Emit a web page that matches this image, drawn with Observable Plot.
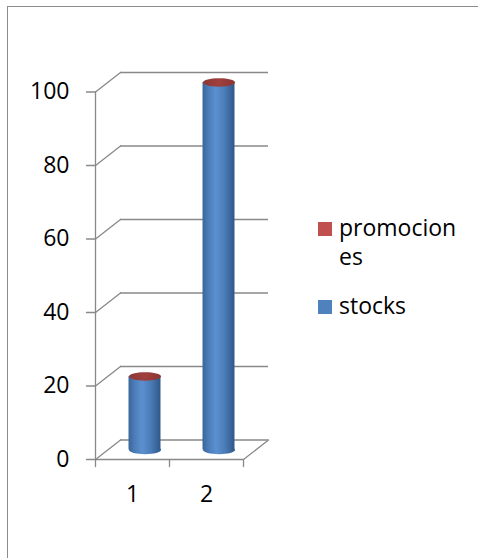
<!DOCTYPE html>
<html>
<head>
<meta charset="utf-8">
<script src="https://cdn.jsdelivr.net/npm/d3@7"></script>
<script src="https://cdn.jsdelivr.net/npm/@observablehq/plot@0.6"></script>
<style>
  html, body { margin: 0; padding: 0; background: #fff; }
  #wrap { position: relative; width: 478px; height: 558px; overflow: hidden; font-family: "Open Sans", sans-serif; }
  #frame { position: absolute; left: 7px; top: 6px; width: 600px; height: 700px; border: 1.5px solid #8c8c8c; box-sizing: border-box; }
  #chart { position: absolute; left: 0; top: 0; }
  .legend { position: absolute; left: 318px; font-size: 23px; color: #000; }
  .item { position: absolute; left: 0; display: flex; align-items: flex-start; }
  .sw { width: 14px; height: 14px; margin-top: 9px; margin-right: 7px; flex: none; }
  .lbl { width: 122px; line-height: 29px; word-break: break-all; }
</style>
</head>
<body>
<div id="wrap">
  <div id="frame"></div>
  <div id="chart"></div>
  <div class="legend" id="legend" style="top:211px"></div>
</div>
<script>
// Categories and series values
const categories = ["1", "2"];
const stocks = [20, 100];
const promociones = [0, 0];
const yTicks = [0, 20, 40, 60, 80, 100];
const seriesNames = ["promociones", "stocks"];
const seriesColors = ["#C0504D", "#4F81BD"];

const rows = categories.map((c, i) => ({
  cat: c,
  pos: i + 0.5,
  stocks: stocks[i],
  top: stocks[i] + promociones[i]
}));

const gray = "#898989";
const halfW = 0.216;          // half cylinder width in category units
const depth = {dx: 25, dy: -19.5};   // back-wall offset in pixels
const mid = {dx: 12.5, dy: -9.5};    // cylinders sit halfway into the depth

// straight-line shape for vector marks
const lineShape = {draw(ctx, l) { ctx.moveTo(0, 0); ctx.lineTo(0, -l); }};

// flattened ellipse symbol for the cylinder ends
const ellipse = {
  draw(ctx, size) {
    const rx = Math.sqrt(size / Math.PI), ry = rx * 0.26, k = 0.5523;
    ctx.moveTo(rx, 0);
    ctx.bezierCurveTo(rx, ry * k, rx * k, ry, 0, ry);
    ctx.bezierCurveTo(-rx * k, ry, -rx, ry * k, -rx, 0);
    ctx.bezierCurveTo(-rx, -ry * k, -rx * k, -ry, 0, -ry);
    ctx.bezierCurveTo(rx * k, -ry, rx, -ry * k, rx, 0);
    ctx.closePath();
  }
};

const diag = Math.hypot(depth.dx, depth.dy);
const diagAngle = Math.atan2(depth.dx, -depth.dy) * 180 / Math.PI;

const svg = Plot.plot({
  width: 478,
  height: 558,
  marginLeft: 95,
  marginRight: 235,
  marginTop: 91.5,
  marginBottom: 99,
  style: {fontFamily: "'Open Sans', sans-serif", fontSize: "23px", background: "transparent", overflow: "visible"},
  x: {type: "linear", domain: [0, categories.length], axis: null},
  y: {domain: [0, 100], axis: null},
  marks: [
    // back wall gridlines (including back floor edge)
    Plot.ruleY(yTicks, {x1: 0, x2: categories.length, ...depth, stroke: gray, strokeWidth: 1.3}),
    // side wall diagonals
    Plot.vector(yTicks, {x: 0, y: d => d, length: diag, rotate: diagAngle, anchor: "start", shape: lineShape, stroke: gray, strokeWidth: 1.3}),
    Plot.vector([categories.length], {x: d => d, y: 0, length: diag, rotate: diagAngle, anchor: "start", shape: lineShape, stroke: gray, strokeWidth: 1.3}),
    // front floor edge and vertical axis
    Plot.ruleY([0], {x1: 0, x2: categories.length, stroke: gray, strokeWidth: 1.3}),
    Plot.ruleX([0], {y1: 0, y2: 100, stroke: gray, strokeWidth: 1.3}),
    // y ticks and labels
    Plot.vector(yTicks, {x: 0, y: d => d, length: 9, rotate: -90, anchor: "start", shape: lineShape, stroke: gray, strokeWidth: 1.3}),
    Plot.text(yTicks, {x: 0, y: d => d, text: d => String(d), textAnchor: "end", dx: -26, fontSize: 23, fill: "#000"}),
    // x ticks and labels
    Plot.vector(d3.range(categories.length + 1), {x: d => d, y: 0, length: 7, rotate: 180, anchor: "start", shape: lineShape, stroke: gray, strokeWidth: 1.3}),
    Plot.text(rows, {x: "pos", y: 0, text: "cat", dy: 35, fontSize: 23, fill: "#000"}),
    // cylinders: bottom end, stocks body, promociones body, top cap
    Plot.dot(rows, {x: "pos", y: 0, r: 16, symbol: ellipse, fill: "url(#cylBlue)", stroke: "none", ...mid}),
    Plot.rect(rows, {x1: d => d.pos - halfW, x2: d => d.pos + halfW, y1: 0, y2: "stocks", fill: "url(#cylBlue)", inset: 0, ...mid}),
    Plot.rect(rows, {x1: d => d.pos - halfW, x2: d => d.pos + halfW, y1: "stocks", y2: "top", fill: "url(#cylRed)", inset: 0, ...mid}),
    Plot.dot(rows, {x: "pos", y: "top", r: 16, symbol: ellipse, fill: "url(#capRed)", stroke: "none", ...mid})
  ]
});

const defs = document.createElementNS("http://www.w3.org/2000/svg", "defs");
defs.innerHTML = `
  <linearGradient id="cylBlue" x1="0" x2="1" y1="0" y2="0">
    <stop offset="0" stop-color="#3a6699"/>
    <stop offset="0.18" stop-color="#4b7cb8"/>
    <stop offset="0.42" stop-color="#5b90d0"/>
    <stop offset="0.7" stop-color="#4a7bb6"/>
    <stop offset="1" stop-color="#2f5789"/>
  </linearGradient>
  <linearGradient id="cylRed" x1="0" x2="1" y1="0" y2="0">
    <stop offset="0" stop-color="#8f3634"/>
    <stop offset="0.42" stop-color="#c0504d"/>
    <stop offset="1" stop-color="#7d2f2d"/>
  </linearGradient>
  <linearGradient id="capRed" x1="0" x2="1" y1="0" y2="0">
    <stop offset="0" stop-color="#8c3836"/>
    <stop offset="0.5" stop-color="#a0403d"/>
    <stop offset="1" stop-color="#8a3533"/>
  </linearGradient>`;
svg.insertBefore(defs, svg.firstChild);
document.getElementById("chart").appendChild(svg);

// legend to the right of the plot
const legend = document.getElementById("legend");
const offsets = [2, 80];
seriesNames.forEach((name, i) => {
  const item = document.createElement("div");
  item.className = "item";
  item.style.top = offsets[i] + "px";
  const sw = document.createElement("div");
  sw.className = "sw";
  sw.style.background = seriesColors[i];
  const lbl = document.createElement("div");
  lbl.className = "lbl";
  lbl.textContent = name;
  item.appendChild(sw);
  item.appendChild(lbl);
  legend.appendChild(item);
});
</script>
</body>
</html>
